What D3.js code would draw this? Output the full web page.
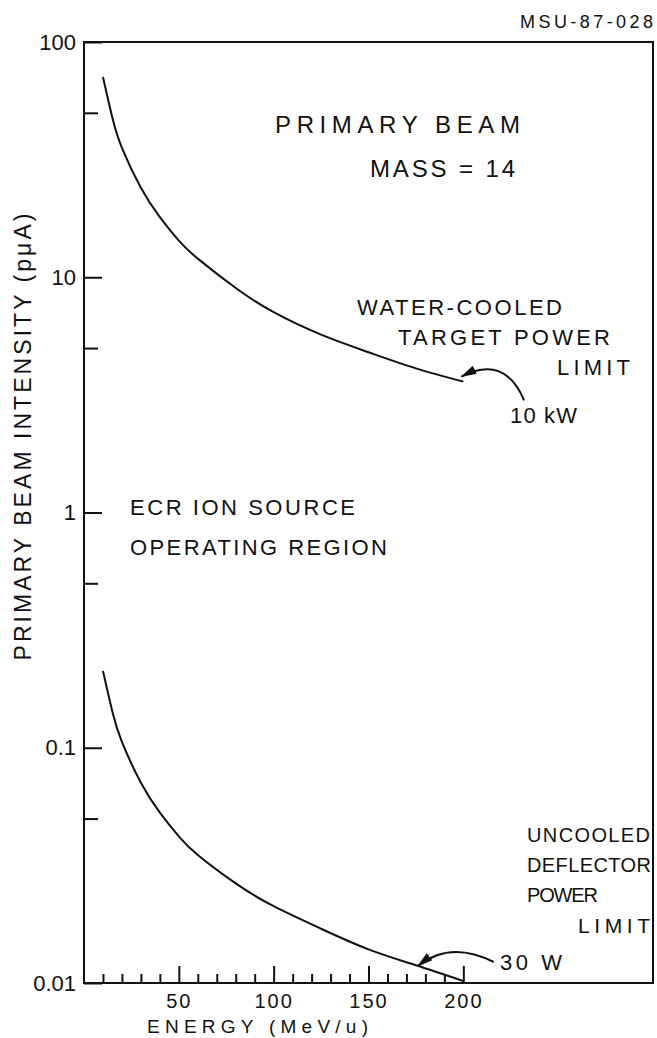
<!DOCTYPE html>
<html>
<head>
<meta charset="utf-8">
<style>
body { margin: 0; background: #fff; }
svg { display: block; }
text { font-family: "Liberation Sans", Arial, sans-serif; fill: #111; }
.frame { fill: none; stroke: #111; stroke-width: 2; }
.curve { fill: none; stroke: #111; stroke-width: 2; }
.axis path { display: none; }
.axis line { stroke: #111; stroke-width: 2; }
.axis text { font-size: 22px; }
.axis.xlab text { font-size: 20px; }
.arrow { fill: none; stroke: #111; stroke-width: 2; }
</style>
</head>
<body>
<svg width="657" height="1038"></svg>
<script src="https://cdn.jsdelivr.net/npm/d3@7"></script>
<script>
// energies (MeV/u)
var energy = [10, 15, 20, 30, 40, 50, 60, 80, 100, 125, 150, 175, 200];
// water-cooled target power limit, 10 kW (pμA)
var targetLimit = [71, 47.5, 35.5, 24, 18, 14.3, 12, 9, 7.1, 5.7, 4.8, 4.1, 3.6];
// uncooled deflector power limit, 30 W (pμA)
var deflectorLimit = [0.212, 0.142, 0.106, 0.071, 0.053, 0.042, 0.035, 0.0265, 0.0212, 0.017, 0.0139, 0.0119, 0.0102];

var yMajor = [0.01, 0.1, 1, 10, 100];
var yMinor = [0.05, 0.5, 5, 50];
var yLabels = ["0.01", "0.1", "1", "10", "100"];
var xMajor = [50, 100, 150, 200];
var xMinor = [10, 20, 30, 40, 60, 70, 80, 90, 110, 120, 130, 140, 160, 170, 180, 190];

var svg = d3.select("svg"),
    margin = {top: 42, right: 4, bottom: 55, left: 84},
    width = +svg.attr("width") - margin.left - margin.right,
    height = +svg.attr("height") - margin.top - margin.bottom;

var g = svg.append("g")
    .attr("transform", "translate(" + margin.left + "," + margin.top + ")");

var x = d3.scaleLinear().domain([0, 300]).range([0, width]);
var y = d3.scaleLog().domain([0.01, 100]).range([height, 0]);

// arrowhead
svg.append("defs").append("marker")
    .attr("id", "head")
    .attr("markerUnits", "userSpaceOnUse")
    .attr("viewBox", "0 -5 16 10")
    .attr("refX", 15).attr("refY", 0)
    .attr("markerWidth", 16).attr("markerHeight", 10)
    .attr("orient", "auto")
  .append("path")
    .attr("d", "M0,-4.5L16,0L0,4.5Z")
    .attr("fill", "#111");

// axes, ticks pointing inward
g.append("g").attr("class", "axis")
    .attr("transform", "translate(0," + height + ")")
    .call(d3.axisBottom(x).tickValues(xMinor).tickSize(-9).tickFormat(""));
g.append("g").attr("class", "axis xlab")
    .attr("transform", "translate(0," + height + ")")
    .call(d3.axisBottom(x).tickValues(xMajor).tickSize(-17).tickPadding(11).tickFormat(d3.format("d")))
    .selectAll("text").attr("letter-spacing", 2);

g.append("g").attr("class", "axis")
    .call(d3.axisLeft(y).tickValues(yMinor).tickSize(-14).tickFormat(""));
g.append("g").attr("class", "axis")
    .call(d3.axisLeft(y).tickValues(yMajor).tickSize(-18).tickPadding(8)
        .tickFormat(function(d, i) { return yLabels[i]; }));

g.append("rect").attr("class", "frame")
    .attr("width", width).attr("height", height);

// curves
var line = d3.line()
    .x(function(d) { return x(d[0]); })
    .y(function(d) { return y(d[1]); })
    .curve(d3.curveNatural);

g.append("path").attr("class", "curve")
    .attr("d", line(d3.zip(energy, targetLimit)));
g.append("path").attr("class", "curve")
    .attr("d", line(d3.zip(energy, deflectorLimit)));

// annotation arrows (data coords)
var arrows = [
    {from: [232, 3.0], ctrl: [222, 4.7], to: [199, 3.78]},
    {from: [216, 0.01228], ctrl: [193, 0.0152], to: [176, 0.0118]}
];
arrows.forEach(function(a) {
    g.append("path").attr("class", "arrow")
        .attr("marker-end", "url(#head)")
        .attr("d", "M" + x(a.from[0]) + "," + y(a.from[1]) +
                   "Q" + x(a.ctrl[0]) + "," + y(a.ctrl[1]) +
                   " " + x(a.to[0]) + "," + y(a.to[1]));
});

// text labels (page pixels)
var labels = [
    {t: "MSU-87-028", x: 653, y: 28, s: 18, w: 133, a: "end"},
    {t: "PRIMARY BEAM", x: 275, y: 133, s: 24, w: 245},
    {t: "MASS = 14", x: 370, y: 177, s: 24, w: 145},
    {t: "WATER-COOLED", x: 357, y: 315, s: 22, w: 205},
    {t: "TARGET POWER", x: 398, y: 345, s: 22, w: 212},
    {t: "LIMIT", x: 557, y: 375, s: 22, w: 73},
    {t: "10 kW", x: 510, y: 423, s: 22, w: 67},
    {t: "ECR ION SOURCE", x: 130, y: 515, s: 22, w: 225},
    {t: "OPERATING REGION", x: 130, y: 555, s: 22, w: 257},
    {t: "UNCOOLED", x: 527, y: 842, s: 20, w: 123},
    {t: "DEFLECTOR", x: 527, y: 872, s: 20, w: 124},
    {t: "POWER", x: 527, y: 902, s: 20, w: 71},
    {t: "LIMIT", x: 578, y: 933, s: 21, w: 72},
    {t: "30 W", x: 500, y: 970, s: 22, w: 62},
    {t: "ENERGY (MeV/u)", x: 147, y: 1033, s: 19, w: 221}
];
svg.selectAll("text.lbl")
  .data(labels)
  .enter().append("text")
    .attr("class", "lbl")
    .attr("x", function(d) { return d.x; })
    .attr("y", function(d) { return d.y; })
    .attr("text-anchor", function(d) { return d.a || "start"; })
    .attr("textLength", function(d) { return d.w; })
    .attr("lengthAdjust", "spacing")
    .style("font-size", function(d) { return d.s + "px"; })
    .text(function(d) { return d.t; });

svg.append("text")
    .attr("transform", "translate(31,437) rotate(-90)")
    .attr("text-anchor", "middle")
    .attr("textLength", 447)
    .attr("lengthAdjust", "spacing")
    .style("font-size", "23px")
    .text("PRIMARY BEAM INTENSITY (pμA)");
</script>
</body>
</html>
